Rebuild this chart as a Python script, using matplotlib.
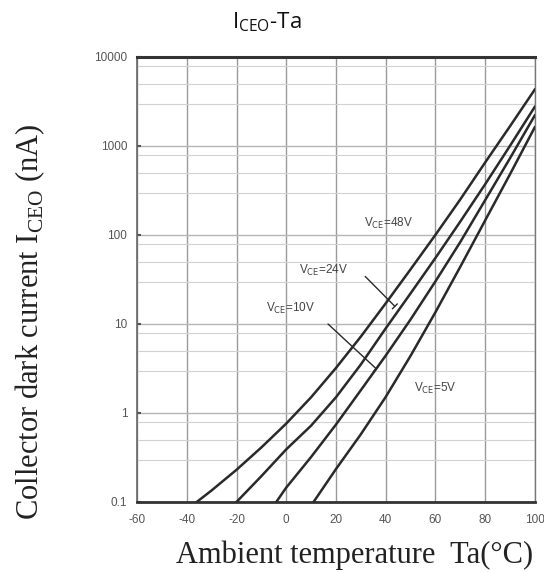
import numpy as np
import matplotlib
matplotlib.use("Agg")
import matplotlib.pyplot as plt
from matplotlib.ticker import LogLocator, FixedLocator, NullFormatter

# Ta (deg C) and I_CEO (nA)
t_48 = [-36, -30, -20, -10, 0, 10, 20, 30, 40, 50, 60, 70, 80, 90, 100]
i_48 = [0.1, 0.135, 0.23, 0.41, 0.76, 1.5, 3.2, 7.2, 17, 41, 100, 250,
        650, 1660, 4300]

t_24 = [-20, -10, 0, 10, 20, 30, 40, 50, 60, 70, 80, 90, 100]
i_24 = [0.1, 0.195, 0.39, 0.72, 1.5, 3.5, 8.9, 22, 55, 141, 370, 1000, 2750]

t_10 = [-4, 0, 10, 20, 30, 40, 50, 60, 70, 80, 90, 100]
i_10 = [0.1, 0.145, 0.32, 0.74, 1.8, 4.4, 11.2, 30, 83, 245, 725, 2200]

t_5 = [11, 20, 30, 40, 50, 60, 70, 80, 90, 100]
i_5 = [0.1, 0.234, 0.575, 1.51, 4.37, 13.5, 43.7, 145, 479, 1620]

x_ticks = [-60, -40, -20, 0, 20, 40, 60, 80, 100]
y_ticks = [0.1, 1, 10, 100, 1000, 10000]
y_labels = ["0.1", "1", "10", "100", "1000", "10000"]

curve_col = "#2a2a2a"
grid_col = "#9a9a9a"

fig = plt.figure(figsize=(5.44, 5.72), dpi=100)
ax = fig.add_axes([0.252, 0.1224, 0.731, 0.778])

for t, i in [(t_48, i_48), (t_24, i_24), (t_10, i_10), (t_5, i_5)]:
    ax.plot(t, i, color=curve_col, lw=1.8, solid_joinstyle="round", zorder=3)

ax.set_yscale("log")
ax.set_xlim(-60, 100)
ax.set_ylim(0.1, 10000)

ax.xaxis.set_major_locator(FixedLocator(x_ticks))
ax.set_xticklabels([str(v) for v in x_ticks])
ax.yaxis.set_major_locator(FixedLocator(y_ticks))
ax.set_yticklabels(y_labels)
ax.yaxis.set_minor_locator(LogLocator(base=10, subs=[3, 5, 8]))
ax.yaxis.set_minor_formatter(NullFormatter())

ax.grid(True, which="major", axis="x", color=grid_col, lw=1.0)
ax.grid(True, which="major", axis="y", color="#b5b5b5", lw=1.0)
ax.grid(True, which="minor", axis="y", color="#d2d2d2", lw=0.8)
ax.set_axisbelow(True)

ax.tick_params(axis="x", length=0, pad=9, labelsize=8.5, colors="#555555")
ax.tick_params(axis="y", which="major", direction="in", length=3,
               width=1.5, pad=7, labelsize=8.5, colors="#555555")
ax.tick_params(axis="y", which="minor", length=0)
for lab in ax.get_xticklabels() + ax.get_yticklabels():
    lab.set_fontfamily("Liberation Sans")

ax.spines["top"].set_linewidth(2.2)
ax.spines["top"].set_color("#333333")
ax.spines["bottom"].set_linewidth(2.0)
ax.spines["bottom"].set_color("#333333")
ax.spines["left"].set_linewidth(1.2)
ax.spines["left"].set_color("#666666")
ax.spines["right"].set_linewidth(1.0)
ax.spines["right"].set_color("#777777")

lab_kw = dict(fontsize=8.5, color="#444444", fontfamily="Liberation Sans",
              ha="center", va="center", zorder=4)
ax.text(41, 136, r"V$_{\rm CE}$=48V", **lab_kw)
ax.text(15, 40, r"V$_{\rm CE}$=24V", **lab_kw)
ax.text(1.6, 15, r"V$_{\rm CE}$=10V", **lab_kw)
ax.text(60, 1.9, r"V$_{\rm CE}$=5V", **lab_kw)

bar = dict(arrowstyle="-[, widthB=0.25, lengthB=0.0", color=curve_col, lw=1.0)
ax.annotate("", xy=(44.5, 15), xytext=(31, 36), arrowprops=bar)
ax.annotate("", xy=(37.0, 3.0), xytext=(16, 10.5), arrowprops=bar)

fig.text(0.651, 0.030, "Ambient temperature  Ta(\u00b0C)",
         fontfamily="Liberation Serif", fontsize=22, color="#222222",
         ha="center", va="center")
fig.text(0.055, 0.438, r"Collector dark current I$_{\mathregular{CEO}}$ (nA)",
         fontfamily="Liberation Serif", fontsize=22, color="#222222",
         rotation=90, ha="center", va="center")

fig.text(0.49, 0.962, r"I$_{\mathregular{CEO}}$-Ta", fontfamily="Open Sans",
         fontsize=16, ha="center", va="center", color="#111111")

fig.savefig("out.png", dpi=100, facecolor="white")
